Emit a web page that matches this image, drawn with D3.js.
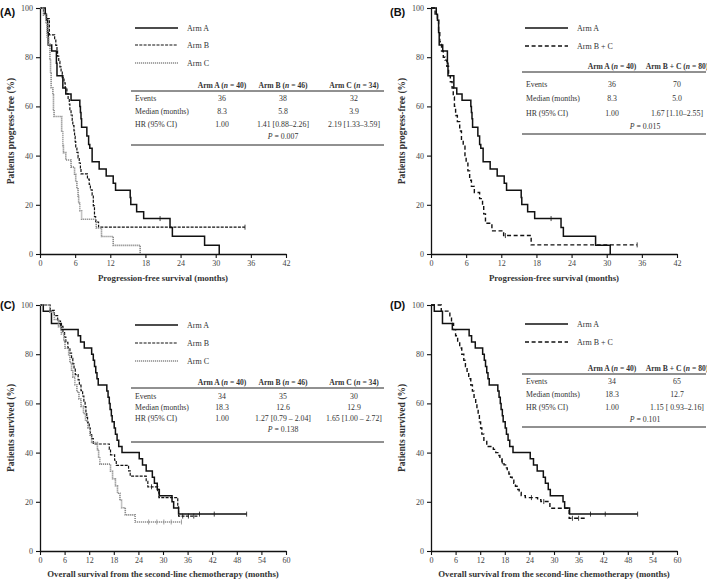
<!DOCTYPE html>
<html><head><meta charset="utf-8">
<script src="https://cdn.jsdelivr.net/npm/d3@7"></script>
<style>body{margin:0;background:#fff}</style>
</head><body><svg id="c" width="707" height="581"></svg>
<script>
// ---------- DATA ----------
// Kaplan-Meier steps: [month, % surviving after the step]
const pfsArmA = [[0,100],[0.9,97.5],[1.1,95],[1.3,90],[1.4,85],[2.0,82.5],[2.8,77.5],[2.9,72.5],[3.9,67.5],[4.4,65],[5.3,62.5],[6.8,60],[6.9,57.5],[7.0,55],[7.1,51.5],[8.0,48],[8.3,44.5],[8.5,43],[8.9,37.5],[10.1,34.6],[11.3,31.7],[12.5,28.8],[12.9,25.9],[15.4,23],[15.5,20.1],[16.5,17.2],[17.7,14.4],[22.2,10.8],[22.6,7.2],[28.1,3.6],[30.6,0]];
const pfsArmACens = [20.5];
const pfsArmAEnd = 30.6;

const pfsArmB = [[0,100],[0.6,97.8],[1.1,95.7],[1.6,89.1],[2.5,87],[2.7,84.8],[2.9,82.6],[3.0,80.4],[3.2,78.3],[3.4,76.1],[3.6,73.9],[3.8,71.7],[4.1,69.6],[4.3,67.4],[4.6,65.2],[4.8,63],[5.0,60.9],[5.1,58.7],[5.3,56.5],[5.5,54.3],[5.6,52.2],[5.8,50],[5.9,47.8],[6.0,45.7],[6.1,43.5],[6.3,41.3],[6.5,39.1],[6.7,37],[6.9,34.8],[7.0,32.6],[8.1,30.4],[8.4,28.3],[8.6,26.1],[8.9,23.9],[9.1,19.6],[9.3,15.2],[9.5,13],[10.0,10.9]];
const pfsArmBCens = [35];
const pfsArmBEnd = 35;

const pfsArmC = [[0,100],[0.6,97.1],[1.0,94.1],[1.2,88.2],[1.5,85.3],[1.7,79.4],[1.8,73.5],[1.9,67.6],[2.2,64.7],[2.3,58.8],[2.4,55.9],[3.7,50],[3.9,44.1],[4.0,41.2],[4.4,38.2],[5.3,35.3],[5.9,32.4],[6.1,29.4],[6.3,26.5],[6.5,23.5],[6.6,20.6],[6.8,17.6],[7.1,14.1],[9.6,10.6],[10.5,7.1],[12.5,3.5],[17.1,0]];
const pfsArmCCens = [];
const pfsArmCEnd = 17.1;

const pfsArmBC = [[0,100],[0.7,97.5],[1.1,95],[1.3,90],[1.5,86.3],[1.8,82.5],[2.1,80],[2.4,78.8],[2.7,76.3],[3.0,72.5],[3.3,70],[3.6,67.5],[3.8,63.8],[4.0,60],[4.2,56.3],[4.5,53.8],[4.9,50],[5.2,46.3],[5.5,43.8],[5.8,40],[6.0,37.5],[6.3,33.8],[6.6,30],[6.9,27.5],[7.4,25],[8.3,22.5],[8.8,20],[9.0,16.3],[9.3,12.5],[10.4,9.4],[12.4,7.5],[17.1,3.7]];
const pfsArmBCCens = [12.7, 35.2];
const pfsArmBCEnd = 35.2;

const osArmA = [[0,100],[0.8,97.5],[2.8,92.5],[5.2,90],[9.3,87.5],[9.9,85],[10.8,82.5],[12.6,80],[13.0,77.5],[13.3,75],[13.6,72.5],[13.9,70],[14.2,67.5],[16.3,65],[16.6,62.5],[16.9,60],[17.1,57.5],[17.4,55],[17.6,52.5],[18.1,50],[18.4,47.5],[18.8,45],[19.2,42.5],[20.0,40],[24.2,37.5],[25.0,35],[25.9,32.5],[27.4,30],[27.9,27.5],[28.6,25],[29.1,22.5],[32.2,20],[32.6,17.5],[33.8,15]];
const osArmACens = [38.9, 42.5, 50.4];
const osArmAEnd = 50.4;

const osArmB = [[0,100],[2.5,97.8],[3.5,95.7],[4.3,93.5],[5.0,91.3],[5.6,89.1],[6.0,87],[6.3,84.8],[6.8,82.6],[7.3,80.4],[7.7,78.3],[8.0,76.1],[8.3,73.9],[8.6,71.7],[9.3,69.6],[9.6,67.4],[10.0,65.2],[10.4,63],[10.7,60.9],[11.0,58.7],[11.2,56.5],[11.4,54.3],[11.6,52.2],[12.0,50],[12.3,47.8],[12.6,45.7],[13.0,43.5],[16.9,41.3],[17.2,39.1],[18.2,36.9],[18.6,34.8],[21.6,32.6],[22.0,30.4],[25.9,28.3],[26.3,26.1],[28.7,23.9],[29.0,21.7],[33.6,17.9],[33.8,14.2]];
const osArmBCens = [27.2, 34.8, 36.2, 37.5];
const osArmBEnd = 38.5;

const osArmC = [[0,100],[2.4,97.1],[3.5,94.1],[4.5,91.2],[5.2,88.2],[5.8,85.3],[6.1,82.4],[7.0,79.4],[7.3,76.5],[7.7,73.5],[8.0,70.6],[8.5,67.6],[9.0,64.7],[9.5,61.8],[10.0,58.8],[10.6,55.9],[11.1,52.9],[11.7,50],[12.2,47.1],[12.6,44.1],[14.0,41.2],[14.3,38.2],[14.6,35.3],[17.2,32.4],[17.7,29.4],[18.4,26.5],[18.9,23.5],[19.5,20.6],[19.9,17.6],[20.8,14.7],[23.2,11.8]];
const osArmCCens = [26.5, 28.5, 30.2, 32.0, 34.5];
const osArmCEnd = 34.5;

const osArmBC = [[0,100],[2.5,97.5],[4.6,95],[5.0,92.5],[5.5,90],[6.0,87.5],[6.5,85],[7.0,82.5],[7.5,80],[8.0,77.5],[8.4,75],[8.8,72.5],[9.2,70],[9.7,67.5],[10.1,65],[10.5,62.5],[10.9,60],[11.2,57.5],[11.5,55],[11.8,52.5],[12.1,50],[12.4,47.5],[12.9,45],[13.6,42.5],[15.2,41.3],[15.8,40],[16.3,38.8],[16.8,37.5],[17.3,36.3],[17.8,35],[18.2,33.8],[18.6,32.5],[19.0,31.3],[19.4,30],[19.8,28.8],[20.2,27.5],[20.6,26.3],[21.0,25],[21.5,23.8],[22.0,22.5],[23.0,21.7],[26.0,20.9],[26.8,20.1],[29.0,17.4],[33.7,13.3]];
const osArmBCCens = [17.4, 24.5, 27.5, 34.5, 36.0];
const osArmBCEnd = 38;

// Axis ticks
const pfsXTicks = [0,6,12,18,24,30,36,42];
const osXTicks = [0,6,12,18,24,30,36,42,48,54,60];
const yTicks = [0,20,40,60,80,100];

// Tables
const armLabels3 = ["Arm A","Arm B","Arm C"];
const armN3 = [40,46,34];
const armLabels2 = ["Arm A","Arm B + C"];
const armN2 = [40,80];
const rowLabels = ["Events","Median (months)","HR (95% CI)"];
const tblA = {events:["36","38","32"], median:["8.3","5.8","3.9"], hr:["1.00","1.41 [0.88–2.26]","2.19 [1.33–3.59]"], p:"0.007"};
const tblB = {events:["36","70"], median:["8.3","5.0"], hr:["1.00","1.67 [1.10–2.55]"], p:"0.015"};
const tblC = {events:["34","35","30"], median:["18.3","12.6","12.9"], hr:["1.00","1.27 [0.79 – 2.04]","1.65 [1.00 – 2.72]"], p:"0.138"};
const tblD = {events:["34","65"], median:["18.3","12.7"], hr:["1.00","1.15 [ 0.93–2.16]"], p:"0.101"};

// ---------- DRAW ----------
const svg = d3.select("#c");
const SERIF = "'Liberation Serif','Times New Roman',serif";
const SANS = "'Liberation Sans',Arial,sans-serif";
const TXT = "#333";

const styles = {
  A: {stroke:"#111", width:1.5, dash:null},
  B: {stroke:"#111", width:1.2, dash:"3,1.3"},
  C: {stroke:"#8a8a8a", width:1.6, dash:"1.2,0.8"},
  BC:{stroke:"#111", width:1.4, dash:"4,2.6"}
};

const panels = [
  {letter:"(A)", lx:0, ly:16, x0:40, y0:8, xmax:42, xticks:pfsXTicks, xtOff:27,
   xtitle:"Progression-free survival (months)", ytitle:"Patients progress-free (%)",
   series:[{d:pfsArmA,c:pfsArmACens,e:pfsArmAEnd,s:"A"},{d:pfsArmB,c:pfsArmBCens,e:pfsArmBEnd,s:"B"},{d:pfsArmC,c:pfsArmCCens,e:pfsArmCEnd,s:"C"}],
   legend:{x1:135,x2:178,ys:[28,45,63],labels:armLabels3,st:["A","B","C"]},
   table:{x1:131,x2:384,label:135,cols:[222,283,354],hy:88,top:91,rows:[101,114,127],py:139,pcol:283,bot:145,heads:armLabels3,n:armN3,t:tblA}},
  {letter:"(B)", lx:390, ly:16, x0:431, y0:8, xmax:42, xticks:pfsXTicks, xtOff:27,
   xtitle:"Progression-free survival (months)", ytitle:"Patients progress-free (%)",
   series:[{d:pfsArmA,c:pfsArmACens,e:pfsArmAEnd,s:"A"},{d:pfsArmBC,c:pfsArmBCCens,e:pfsArmBCEnd,s:"BC"}],
   legend:{x1:525,x2:568,ys:[28,46],labels:armLabels2,st:["A","BC"]},
   table:{x1:522,x2:706,label:526,cols:[612,677],hy:69,top:72,rows:[87,101,116],py:129,pcol:645,bot:134,heads:armLabels2,n:armN2,t:tblB}},
  {letter:"(C)", lx:0, ly:309, x0:40, y0:305, xmax:60, xticks:osXTicks, xtOff:26,
   xtitle:"Overall survival from the second-line chemotherapy (months)", ytitle:"Patients survived (%)",
   series:[{d:osArmA,c:osArmACens,e:osArmAEnd,s:"A"},{d:osArmB,c:osArmBCens,e:osArmBEnd,s:"B"},{d:osArmC,c:osArmCCens,e:osArmCEnd,s:"C"}],
   legend:{x1:135,x2:178,ys:[325,343,361],labels:armLabels3,st:["A","B","C"]},
   table:{x1:131,x2:384,label:135,cols:[222,283,354],hy:385,top:388,rows:[399,410,421],py:432,pcol:283,bot:442,heads:armLabels3,n:armN3,t:tblC}},
  {letter:"(D)", lx:390, ly:309, x0:431, y0:305, xmax:60, xticks:osXTicks, xtOff:26,
   xtitle:"Overall survival from the second-line chemotherapy (months)", ytitle:"Patients survived (%)",
   series:[{d:osArmA,c:osArmACens,e:osArmAEnd,s:"A"},{d:osArmBC,c:osArmBCCens,e:osArmBCEnd,s:"BC"}],
   legend:{x1:525,x2:568,ys:[324,342],labels:armLabels2,st:["A","BC"]},
   table:{x1:522,x2:706,label:526,cols:[612,677],hy:371,top:374,rows:[384,397,410],py:422,pcol:645,bot:427,heads:armLabels2,n:armN2,t:tblD}}
];

const W = 246, H = 246;

function survAt(d, t){ let s=100; for(const p of d){ if(p[0]<=t) s=p[1]; } return s; }

panels.forEach(P=>{
  const g = svg.append("g");
  const x = d3.scaleLinear().domain([0,P.xmax]).range([P.x0, P.x0+W]);
  const y = d3.scaleLinear().domain([0,100]).range([P.y0+H, P.y0]);

  // axes
  const xa = g.append("g").attr("transform",`translate(0,${P.y0+H})`)
    .call(d3.axisBottom(x).tickValues(P.xticks).tickSize(4).tickSizeOuter(0).tickPadding(2));
  const ya = g.append("g").attr("transform",`translate(${P.x0},0)`)
    .call(d3.axisLeft(y).tickValues(yTicks).tickSize(4).tickSizeOuter(0).tickPadding(3));
  [xa,ya].forEach(a=>{
    a.select(".domain").attr("stroke","#111").attr("stroke-width",1.3);
    a.selectAll(".tick line").attr("stroke","#111").attr("stroke-width",1.1);
    a.selectAll("text").attr("font-family",SERIF).attr("font-size",8).attr("fill","#444");
  });

  // titles
  g.append("text").attr("x",P.x0+W/2).attr("y",P.y0+H+P.xtOff).attr("text-anchor","middle")
    .attr("font-family",SERIF).attr("font-weight","bold").attr("font-size",8.8).attr("fill",TXT).text(P.xtitle);
  g.append("text").attr("transform",`translate(${P.x0-26},${P.y0+H/2}) rotate(-90)`).attr("text-anchor","middle")
    .attr("font-family",SERIF).attr("font-weight","bold").attr("font-size",9.5).attr("fill",TXT).text(P.ytitle);
  g.append("text").attr("x",P.lx).attr("y",P.ly).attr("font-family",SANS).attr("font-weight","bold")
    .attr("font-size",11).attr("fill","#111").text(P.letter);

  // curves
  const line = d3.line().x(d=>x(d[0])).y(d=>y(d[1])).curve(d3.curveStepAfter);
  P.series.forEach(S=>{
    const st = styles[S.s];
    const pts = S.d.slice();
    const last = pts[pts.length-1];
    if (S.e > last[0]) pts.push([S.e, last[1]]);
    g.append("path").attr("d",line(pts)).attr("fill","none").attr("stroke",st.stroke)
      .attr("stroke-width",st.width).attr("stroke-dasharray",st.dash);
    S.c.forEach(t=>{
      const v = survAt(S.d,t);
      g.append("line").attr("x1",x(t)).attr("x2",x(t)).attr("y1",y(v)-2.5).attr("y2",y(v)+2.5)
        .attr("stroke",st.stroke).attr("stroke-width",0.8);
    });
  });

  // legend
  const L = P.legend;
  L.ys.forEach((yy,i)=>{
    const st = styles[L.st[i]];
    g.append("line").attr("x1",L.x1).attr("x2",L.x2).attr("y1",yy).attr("y2",yy)
      .attr("stroke",st.stroke).attr("stroke-width",st.width).attr("stroke-dasharray",st.dash);
    g.append("text").attr("x",L.x2+9).attr("y",yy+3).attr("font-family",SERIF).attr("font-size",8)
      .attr("fill",TXT).text(L.labels[i]);
  });

  // table
  const T = P.table;
  T.heads.forEach((h,i)=>{
    const t = g.append("text").attr("x",T.cols[i]).attr("y",T.hy).attr("text-anchor","middle")
      .attr("font-family",SERIF).attr("font-weight","bold").attr("font-size",7.6).attr("fill",TXT);
    t.append("tspan").text(h+" (");
    t.append("tspan").attr("font-style","italic").text("n");
    t.append("tspan").text(" = "+T.n[i]+")");
  });
  g.append("line").attr("x1",T.x1).attr("x2",T.x2).attr("y1",T.top).attr("y2",T.top).attr("stroke","#222").attr("stroke-width",1);
  g.append("line").attr("x1",T.x1).attr("x2",T.x2).attr("y1",T.bot).attr("y2",T.bot).attr("stroke","#222").attr("stroke-width",1);
  const vals = [T.t.events, T.t.median, T.t.hr];
  rowLabels.forEach((r,ri)=>{
    g.append("text").attr("x",T.label).attr("y",T.rows[ri]).attr("font-family",SERIF).attr("font-size",7.8)
      .attr("fill",TXT).text(r);
    vals[ri].forEach((v,ci)=>{
      g.append("text").attr("x",T.cols[ci]).attr("y",T.rows[ri]).attr("text-anchor","middle")
        .attr("font-family",SERIF).attr("font-size",7.8).attr("fill",TXT).text(v);
    });
  });
  const pt = g.append("text").attr("x",T.pcol).attr("y",T.py).attr("text-anchor","middle")
    .attr("font-family",SERIF).attr("font-size",7.8).attr("fill",TXT);
  pt.append("tspan").attr("font-style","italic").text("P");
  pt.append("tspan").text(" = "+T.t.p);
});
</script>
</body></html>
